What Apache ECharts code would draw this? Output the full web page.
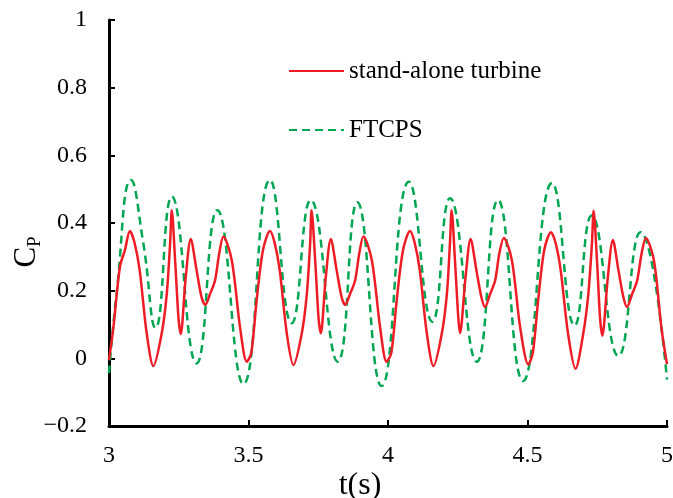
<!DOCTYPE html>
<html>
<head>
<meta charset="utf-8">
<script src="https://cdn.jsdelivr.net/npm/echarts@6/dist/echarts.min.js"></script>
<style>
  html, body { margin: 0; padding: 0; background: #fff; }
  #chart { width: 673px; height: 498px; }
</style>
</head>
<body>
<div id="chart"></div>
<script>
// stand-alone turbine
const tRed = [
  3.000, 3.016, 3.039, 3.057, 3.075, 3.092, 3.110, 3.135, 3.159, 3.189, 3.207, 3.219, 3.225, 3.237, 3.249, 3.257,
  3.275, 3.293, 3.314, 3.332, 3.345, 3.362, 3.380, 3.395, 3.410, 3.440, 3.470, 3.494, 3.510, 3.529, 3.552,
  3.577, 3.594, 3.612, 3.637, 3.661, 3.691, 3.709, 3.721, 3.726, 3.739, 3.751, 3.759,
  3.777, 3.795, 3.816, 3.834, 3.846, 3.864, 3.882, 3.897, 3.912, 3.942, 3.972, 3.995, 4.012, 4.031, 4.054,
  4.079, 4.096, 4.114, 4.139, 4.163, 4.193, 4.211, 4.222, 4.228, 4.240, 4.252, 4.258,
  4.278, 4.296, 4.317, 4.335, 4.348, 4.366, 4.384, 4.399, 4.415, 4.444, 4.474, 4.503, 4.519, 4.538, 4.560,
  4.584, 4.601, 4.619, 4.645, 4.672, 4.700, 4.718, 4.731, 4.737, 4.749, 4.760, 4.768,
  4.788, 4.806, 4.826, 4.844, 4.857, 4.875, 4.893, 4.909, 4.924, 4.953, 4.980, 5.000
]
const cpRed = [
  -0.005, 0.093, 0.27, 0.32, 0.376, 0.34, 0.26, 0.075, -0.023, 0.074, 0.19, 0.34, 0.438, 0.29, 0.12, 0.072,
  0.24, 0.353, 0.26, 0.18, 0.158, 0.19, 0.23, 0.31, 0.36, 0.29, 0.09, -0.01, 0.016, 0.17, 0.32,
  0.376, 0.34, 0.26, 0.075, -0.02, 0.074, 0.19, 0.34, 0.438, 0.29, 0.12, 0.074,
  0.24, 0.353, 0.26, 0.18, 0.158, 0.19, 0.23, 0.31, 0.36, 0.29, 0.09, -0.01, 0.016, 0.17, 0.32,
  0.376, 0.34, 0.26, 0.075, -0.023, 0.074, 0.19, 0.34, 0.438, 0.29, 0.12, 0.075,
  0.24, 0.353, 0.26, 0.18, 0.152, 0.19, 0.23, 0.31, 0.356, 0.29, 0.09, -0.018, 0.016, 0.17, 0.32,
  0.373, 0.34, 0.26, 0.075, -0.031, 0.074, 0.19, 0.34, 0.436, 0.29, 0.12, 0.067,
  0.24, 0.35, 0.26, 0.18, 0.152, 0.19, 0.23, 0.31, 0.356, 0.29, 0.09, -0.017
]

// FTCPS, peaks and troughs
const tGreen = [
  3.000, 3.027, 3.079, 3.123, 3.167, 3.225, 3.314, 3.388, 3.482, 3.577, 3.655, 3.723, 3.820,
  3.890, 3.977, 4.075, 4.159, 4.222, 4.318, 4.394, 4.484, 4.588, 4.669, 4.730, 4.826, 4.905, 5.000
]
const cpGreen = [
  -0.044, 0.19, 0.527, 0.34, 0.09, 0.478, -0.015, 0.438, -0.076, 0.527, 0.104, 0.468, -0.01,
  0.461, -0.082, 0.522, 0.108, 0.473, -0.01, 0.468, -0.067, 0.518, 0.097, 0.422, 0.007, 0.373, -0.063
]

const xTicks = [3, 3.5, 4, 4.5, 5]
const yTicks = [-0.2, 0, 0.2, 0.4, 0.6, 0.8, 1]
const seriesNames = ['stand-alone turbine', 'FTCPS']

const serif = 'Liberation Serif'

const chart = echarts.init(document.getElementById('chart'), null, { renderer: 'canvas' })

const axisCommon = {
  nameMoveOverlap: false,
  axisLine: { show: true, onZero: false, lineStyle: { color: '#000', width: 3 } },
  axisTick: { show: true, inside: true, length: 6, lineStyle: { color: '#000', width: 2 } },
  splitLine: { show: false }
}

chart.setOption({
  animation: false,
  textStyle: { fontFamily: serif, color: '#000' },
  grid: { left: 109, right: 6, top: 20, bottom: 72, outerBoundsMode: 'none', containLabel: false },
  legend: {
    orient: 'vertical',
    left: 283,
    top: 53,
    itemWidth: 55,
    itemHeight: 20,
    itemGap: 33,
    itemStyle: { opacity: 0 },
    textStyle: { fontFamily: serif, fontSize: 25, color: '#000', lineHeight: 26 },
    data: seriesNames
  },
  xAxis: Object.assign({}, axisCommon, {
    type: 'value',
    min: xTicks[0],
    max: xTicks[xTicks.length - 1],
    interval: 0.5,
    name: 't(s)',
    nameLocation: 'middle',
    nameGap: 44,
    nameTextStyle: { fontFamily: serif, fontSize: 32, color: '#000', padding: [0, 56, 0, 0] },
    axisLabel: { fontFamily: serif, fontSize: 24, color: '#000', margin: 18 }
  }),
  yAxis: Object.assign({}, axisCommon, {
    type: 'value',
    min: yTicks[0],
    max: yTicks[yTicks.length - 1],
    interval: 0.2,
    name: '{c|C}{p|P}',
    nameLocation: 'middle',
    nameGap: 64,
    nameTextStyle: {
      padding: [0, 58, 0, 0],
      rich: {
        c: { fontFamily: serif, fontSize: 31, color: '#000', lineHeight: 36 },
        p: { fontFamily: serif, fontSize: 19, color: '#000', lineHeight: 8, verticalAlign: 'bottom' }
      }
    },
    axisLabel: {
      fontFamily: serif, fontSize: 24, color: '#000', margin: 22,
      formatter: v => v < 0 ? '\u2212' + Math.abs(v) : String(v)
    }
  }),
  series: [
    {
      name: seriesNames[0],
      type: 'line',
      symbol: 'none',
      smooth: 0.3,
      lineStyle: { color: '#EE1C25', width: 2.5 },
      itemStyle: { color: '#EE1C25' },
      data: tRed.map((t, i) => [t, cpRed[i]]),
      z: 3
    },
    {
      name: seriesNames[1],
      type: 'line',
      symbol: 'none',
      smooth: 0.5,
      lineStyle: { color: '#00A651', width: 2.5, type: [8, 5] },
      itemStyle: { color: '#00A651' },
      data: tGreen.map((t, i) => [t, cpGreen[i]]),
      z: 2
    }
  ]
})
</script>
</body>
</html>
